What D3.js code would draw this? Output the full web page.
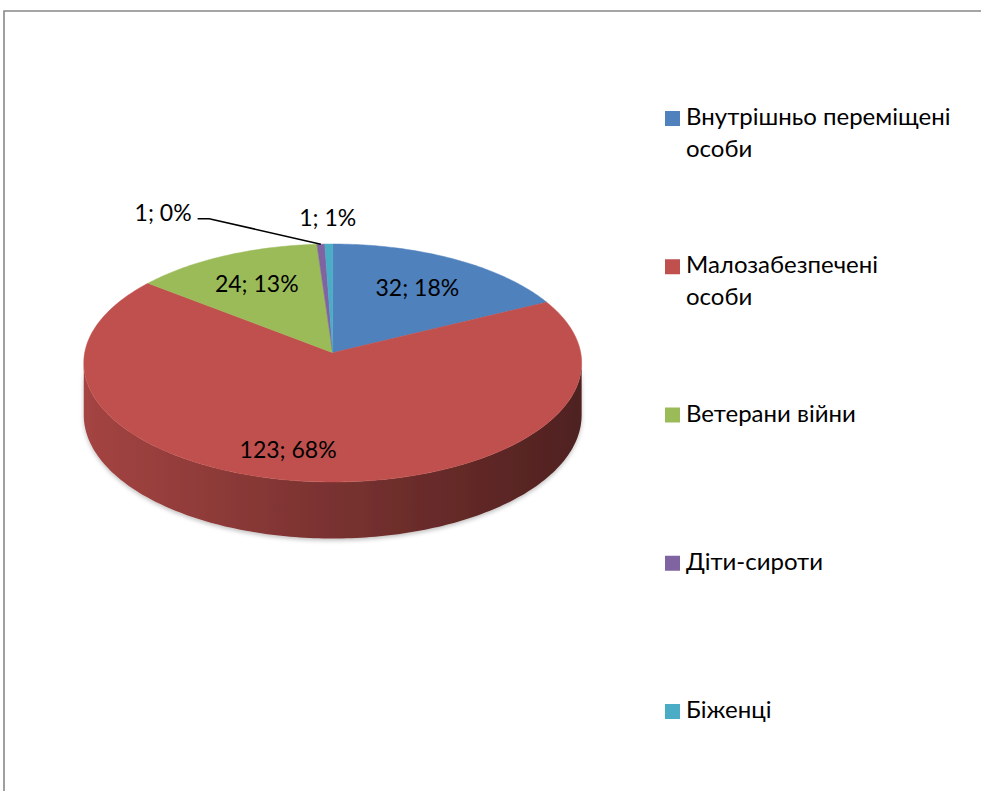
<!DOCTYPE html>
<html>
<head>
<meta charset="utf-8">
<script src="https://cdn.jsdelivr.net/npm/d3@7"></script>
<style>
  html, body { margin: 0; padding: 0; background: #fff; overflow: hidden; }
  svg { display: block; font-family: Lato, "Open Sans", sans-serif; }
</style>
</head>
<body>
<div id="chart"></div>
<script>
// ── Données ───────────────────────────────────────────────────────────────
const categories = [
  'Внутрішньо переміщені\nособи',
  'Малозабезпечені\nособи',
  'Ветерани війни',
  'Діти-сироти',
  'Біженці'
];
const values        = [32, 123, 24, 1, 1];
const percentLabels = ['18%', '68%', '13%', '0%', '1%'];
const colors        = ['#4f81bd', '#c0504d', '#9bbb59', '#8064a2', '#4bacc6'];

// ── Mise en page ──────────────────────────────────────────────────────────
const W = 981, H = 791;
// projection perspective du disque : apex, demi-axes, facteur de perspective, épaisseur
const P = { x0: 332.7, y0: 352.7, A: 248, B: 118.1, p: 0.0866, D: 51.6 };
// placement des étiquettes (rayon relatif, décalage angulaire en degrés)
const labelRadius = [0.68, 0.79, 0.69, 1.525, 1.27];
const labelShift  = [0, 6.3, 0, -27, 0];

const svg = d3.select('#chart').append('svg')
  .attr('width', W).attr('height', H)
  .attr('viewBox', `0 0 ${W} ${H}`);

const defs = svg.append('defs');

// cadre : seuls les bords haut et gauche sont dans l'image
svg.append('path')
  .attr('d', `M4,${H + 5}V11H${W + 5}`)
  .attr('fill', 'none')
  .attr('stroke', '#888')
  .attr('stroke-width', 1.6);

const color = d3.scaleOrdinal().domain(categories).range(colors);

// point du disque : angle (rad, sens horaire depuis midi), rayon relatif, h = 0 dessus / 1 dessous
function proj(a, r, h = 0) {
  const u = r * Math.sin(a), v = r * Math.cos(a);
  const s = 1 / (1 + P.p * v);
  return [P.x0 + P.A * u * s, P.y0 - P.B * v * s + P.D * h * s];
}

const pie = d3.pie().sort(null).value(d => d.value);
const arcs = pie(categories.map((c, i) => ({ name: c, value: values[i], i })));

const line = d3.line();
const deg = Math.PI / 180;

function rim(a0, a1, h) {
  const n = Math.max(2, Math.ceil((a1 - a0) / deg));
  return d3.range(n + 1).map(k => proj(a0 + (a1 - a0) * k / n, 1, h));
}

// ombre portée sous la tranche
const shadow = defs.append('filter').attr('id', 'shadow')
  .attr('x', '-10%').attr('y', '-10%').attr('width', '120%').attr('height', '130%');
shadow.append('feDropShadow')
  .attr('dx', 0).attr('dy', 2).attr('stdDeviation', 2)
  .attr('flood-color', '#000').attr('flood-opacity', 0.25);

// ── Côté (partie avant visible uniquement) ────────────────────────────────
const frontA0 = 95 * deg, frontA1 = 265 * deg;
const xl = P.x0 - P.A / Math.sqrt(1 - P.p * P.p);
const xr = P.x0 + P.A / Math.sqrt(1 - P.p * P.p);

const sideG = svg.append('g').attr('filter', 'url(#shadow)');
arcs.forEach((d, i) => {
  const a0 = Math.max(d.startAngle, frontA0), a1 = Math.min(d.endAngle, frontA1);
  if (a1 <= a0) return;
  const c = color(d.data.name);
  const gid = 'side-' + i;
  const g = defs.append('linearGradient').attr('id', gid)
    .attr('gradientUnits', 'userSpaceOnUse')
    .attr('x1', xl).attr('x2', xr).attr('y1', 0).attr('y2', 0);
  g.append('stop').attr('offset', 0).attr('stop-color', d3.color(c).darker(0.45));
  g.append('stop').attr('offset', 0.5).attr('stop-color', d3.color(c).darker(1.3));
  g.append('stop').attr('offset', 1).attr('stop-color', d3.color(c).darker(2.5));
  const pts = rim(a0, a1, 0).concat(rim(a0, a1, 1).reverse());
  sideG.append('path')
    .attr('d', line(pts) + 'Z')
    .attr('fill', `url(#${gid})`);
});

// ── Dessus ────────────────────────────────────────────────────────────────
svg.append('g').selectAll('path')
  .data(arcs)
  .join('path')
  .attr('d', d => line([[P.x0, P.y0]].concat(rim(d.startAngle, d.endAngle, 0))) + 'Z')
  .attr('fill', d => color(d.data.name))
  .attr('stroke', d => color(d.data.name))
  .attr('stroke-width', 0.5);

// ── Étiquettes ────────────────────────────────────────────────────────────
const labG = svg.append('g')
  .style('font-size', '23px')
  .attr('fill', '#000');

arcs.forEach((d, i) => {
  const mid = (d.startAngle + d.endAngle) / 2;
  const [lx, ly] = proj(mid + labelShift[i] * deg, labelRadius[i]);
  const t = labG.append('text')
    .attr('x', lx).attr('y', ly)
    .attr('dy', '0.35em')
    .attr('text-anchor', 'middle')
    .text(`${values[i]}; ${percentLabels[i]}`);
  if (labelShift[i] !== 0 && labelRadius[i] > 1) {
    // ligne de rappel vers la tranche
    const w = t.node().getComputedTextLength();
    const sx = lx + w / 2 + 6, sy = ly + 6;
    const end = proj(mid, 1);
    labG.append('path')
      .attr('d', line([[sx, sy], [sx + 11.6, sy], end]))
      .attr('fill', 'none')
      .attr('stroke', '#000')
      .attr('stroke-width', 1.5);
  }
});

// ── Légende ───────────────────────────────────────────────────────────────
const ly = d3.scalePoint().domain(categories).range([125, 718]);
const leg = svg.append('g').style('font-size', '24px');
const item = leg.selectAll('g').data(categories).join('g')
  .attr('transform', d => `translate(665,${ly(d)})`);
item.append('rect')
  .attr('x', 0).attr('y', -14)
  .attr('width', 15).attr('height', 15)
  .attr('fill', d => color(d));
item.append('text')
  .attr('x', 21)
  .selectAll('tspan')
  .data(d => d.split('\n'))
  .join('tspan')
  .attr('x', 21)
  .attr('y', (d, i) => i * 32)
  .text(d => d);
</script>
</body>
</html>
